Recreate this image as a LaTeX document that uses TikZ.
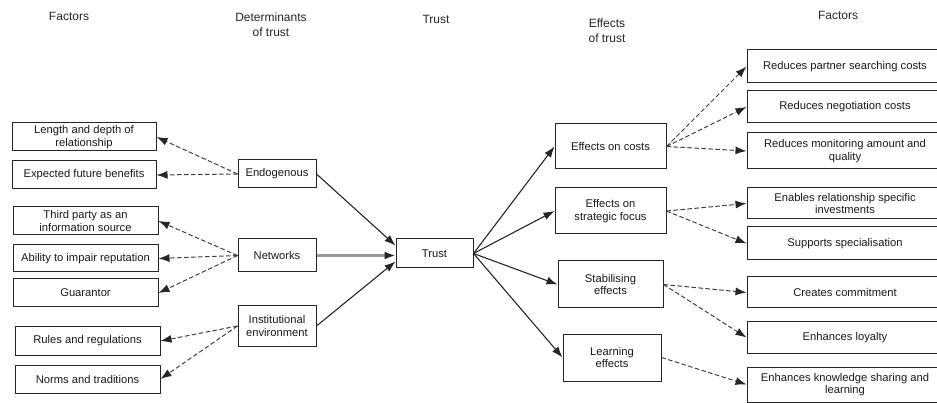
\documentclass[tikz,border=0pt]{standalone}
\usepackage{fontspec}
\setmainfont{Liberation Sans}
\usetikzlibrary{arrows.meta}
\begin{document}
\begin{tikzpicture}[x=1pt,y=-1pt,
  box/.style={draw=black!85,line width=1pt,inner sep=0pt,align=center,
    font=\fontsize{11.2}{12.5}\selectfont,text=black!90},
  head/.style={align=center,font=\fontsize{12}{15}\selectfont,text=black!85},
  solidarrow/.style={draw=black!85,line width=1.1pt,-{Latex[length=11pt,width=8pt]}},
  dasharrow/.style={draw=black!75,line width=1pt,dash pattern=on 4.5pt off 2.5pt,
    -{Latex[length=11pt,width=8pt,color=black!85]}},
  greyarrow/.style={draw=black!40,line width=2.4pt,
    -{Latex[length=11pt,width=8pt,color=black!85]}}]
\useasboundingbox (0,0) rectangle (937,403);

% column headings
\node[head] (h1) at (69,16) {Factors};
\node[head] (h2) at (271,25) {Determinants\\of trust};
\node[head] (h3) at (436,19) {Trust};
\node[head] (h4) at (607,31) {Effects\\of trust};
\node[head] (h5) at (838,15) {Factors};

% factors behind the determinants
\node[box,minimum width=144,minimum height=28] (len) at (84,137) {Length and depth of\\relationship};
\node[box,minimum width=144,minimum height=28] (exp) at (84,175) {Expected future benefits};
\node[box,minimum width=145,minimum height=28] (third) at (85.5,221) {Third party as an\\information source};
\node[box,minimum width=145,minimum height=27] (abil) at (85.5,258.5) {Ability to impair reputation};
\node[box,minimum width=145,minimum height=28] (guar) at (85.5,293) {Guarantor};
\node[box,minimum width=145,minimum height=28] (rules) at (87.5,341) {Rules and regulations};
\node[box,minimum width=145,minimum height=28] (norms) at (87.5,379) {Norms and traditions};

% determinants of trust
\node[box,minimum width=78,minimum height=28] (endo) at (277,174) {Endogenous};
\node[box,minimum width=78,minimum height=33] (netw) at (277,255.5) {Networks};
\node[box,minimum width=78,minimum height=40] (inst) at (277,326) {Institutional\\environment};

% trust
\node[box,minimum width=77,minimum height=29] (trust) at (434.5,253.5) {Trust};

% effects of trust
\node[box,minimum width=111,minimum height=45] (costs) at (610.5,146.5) {Effects on costs};
\node[box,minimum width=111,minimum height=46] (strat) at (610.5,211) {Effects on\\strategic focus};
\node[box,minimum width=105,minimum height=47] (stab) at (610.5,284.5) {Stabilising\\effects};
\node[box,minimum width=98,minimum height=47] (learn) at (612,357.5) {Learning\\effects};

% factors following from the effects
\node[box,minimum width=196,minimum height=33] (rp) at (845,66.5) {Reduces partner searching costs};
\node[box,minimum width=196,minimum height=32] (rn) at (845,107) {Reduces negotiation costs};
\node[box,minimum width=196,minimum height=36] (rm) at (845,151) {Reduces monitoring amount and\\quality};
\node[box,minimum width=196,minimum height=31] (re) at (845,203.5) {Enables relationship specific\\investments};
\node[box,minimum width=196,minimum height=33] (rs) at (845,243.5) {Supports specialisation};
\node[box,minimum width=196,minimum height=31] (rc) at (845,292.5) {Creates commitment};
\node[box,minimum width=196,minimum height=31] (rl) at (845,337.5) {Enhances loyalty};
\node[box,minimum width=196,minimum height=35] (rk) at (845,384.5) {Enhances knowledge sharing and\\learning};

% determinants point back to their factors
\draw[dasharrow] (endo.west) -- (len.east);
\draw[dasharrow] (endo.west) -- (exp.east);
\draw[dasharrow] (netw.west) -- (third.east);
\draw[dasharrow] (netw.west) -- (abil.east);
\draw[dasharrow] (netw.west) -- (guar.east);
\draw[dasharrow] (inst.west) -- (rules.east);
\draw[dasharrow] (inst.west) -- (norms.east);

% determinants feed into trust
\draw[solidarrow] (endo.east) -- ([yshift=8pt]trust.west);
\draw[greyarrow] (netw.east) -- (trust.west |- netw.east);
\draw[solidarrow] (inst.east) -- ([yshift=-8pt]trust.west);

% trust leads to its effects
\draw[solidarrow] (trust.east) -- (costs.west);
\draw[solidarrow] (trust.east) -- (strat.west);
\draw[solidarrow] (trust.east) -- (stab.west);
\draw[solidarrow] (trust.east) -- (learn.west);

% effects lead to factors
\draw[dasharrow] (costs.east) -- (rp.west);
\draw[dasharrow] (costs.east) -- (rn.west);
\draw[dasharrow] (costs.east) -- (rm.west);
\draw[dasharrow] (strat.east) -- (re.west);
\draw[dasharrow] (strat.east) -- (rs.west);
\draw[dasharrow] (stab.east) -- (rc.west);
\draw[dasharrow] (stab.east) -- (rl.west);
\draw[dasharrow] (learn.east) -- (rk.west);
\end{tikzpicture}
\end{document}
